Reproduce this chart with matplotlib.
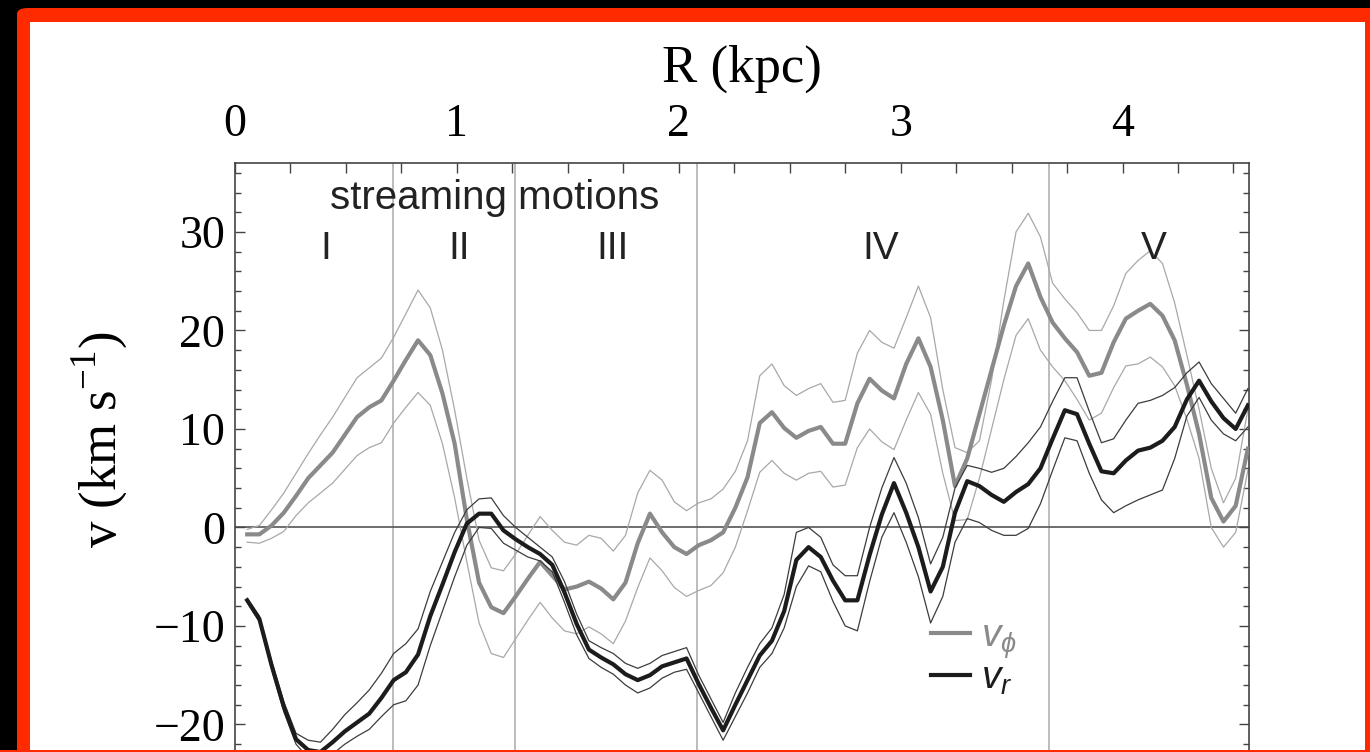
import numpy as np
import matplotlib
matplotlib.use("Agg")
import matplotlib.pyplot as plt
from matplotlib.patches import Rectangle, FancyBboxPatch


''' Data '''
# radial sampling of the velocity profiles (kpc)
R_STEP = 0.055
R = np.arange(1, 84) * R_STEP

v_phi = [-0.7, -0.7, 0.2, 1.5, 3.2, 5.0, 6.3, 7.6, 9.4, 11.2,
         12.2, 12.9, 14.9, 17.0, 19.0, 17.5, 13.6, 8.5, 0.8, -5.6,
         -8.1, -8.7, -7.0, -5.2, -3.5, -4.9, -6.3, -6.0, -5.5, -6.2,
         -7.3, -5.6, -1.6, 1.4, -0.5, -2.0, -2.7, -1.8, -1.3, -0.5,
         2.0, 5.1, 10.6, 11.7, 10.1, 9.1, 9.8, 10.2, 8.5, 8.5,
         12.6, 15.1, 13.9, 13.1, 16.6, 19.2, 16.3, 10.9, 4.2, 7.0,
         11.5, 16.0, 20.5, 24.5, 26.8, 23.4, 20.8, 19.2, 17.8, 15.4,
         15.7, 18.8, 21.2, 22.0, 22.7, 21.5, 19.0, 14.5, 9.5, 3.0,
         0.6, 2.2, 8.0]
v_phi_hi = [-0.2, 0.2, 1.8, 3.5, 5.5, 7.5, 9.4, 11.2, 13.2, 15.2,
            16.2, 17.2, 19.3, 21.7, 24.1, 22.3, 18.0, 11.9, 5.0, -1.3,
            -4.1, -4.4, -2.7, -0.8, 1.1, -0.3, -1.5, -1.8, -0.8, -1.1,
            -2.4, -0.8, 3.5, 5.8, 4.8, 2.6, 1.7, 2.5, 2.9, 3.9,
            5.7, 8.8, 15.4, 16.6, 14.4, 13.4, 14.1, 14.6, 12.7, 12.9,
            17.7, 20.0, 18.8, 18.2, 21.3, 24.5, 21.3, 14.0, 8.1, 7.6,
            8.8, 15.0, 23.0, 30.0, 31.9, 29.5, 24.8, 23.2, 21.8, 20.0,
            20.0, 22.5, 25.8, 27.1, 28.1, 26.8, 22.8, 17.5, 12.0, 6.0,
            2.5, 5.0, 12.0]
v_phi_lo = [-1.5, -1.6, -1.1, -0.4, 1.2, 2.5, 3.5, 4.5, 5.9, 7.3,
            8.1, 8.6, 10.6, 12.2, 13.7, 12.4, 8.5, 3.0, -3.5, -9.7,
            -12.8, -13.2, -11.3, -9.4, -7.6, -9.2, -10.5, -10.8, -10.1, -10.8,
            -11.8, -9.5, -6.1, -3.1, -4.4, -6.1, -7.0, -6.4, -5.9, -4.6,
            -2.0, 1.7, 5.6, 6.8, 5.5, 4.8, 5.5, 5.7, 4.1, 4.3,
            8.1, 10.0, 8.7, 7.9, 10.9, 13.7, 11.5, 5.5, 0.7, 0.8,
            5.0, 10.0, 15.0, 19.5, 21.2, 18.0, 16.3, 14.9, 13.0, 10.9,
            11.6, 14.2, 16.4, 16.6, 17.3, 16.3, 14.4, 11.0, 7.0, 0.0,
            -2.0, -0.5, 5.8]

v_r = [-7.4, -9.3, -14.0, -18.2, -21.5, -22.6, -22.8, -21.8, -20.7, -19.8,
       -18.9, -17.3, -15.5, -14.7, -12.9, -9.0, -5.8, -2.5, 0.4, 1.4,
       1.4, -0.3, -1.2, -2.0, -2.7, -3.8, -6.6, -9.8, -12.4, -13.2,
       -13.9, -14.9, -15.5, -15.0, -14.1, -13.7, -13.3, -15.9, -18.3, -20.6,
       -18.0, -15.5, -13.0, -11.5, -8.5, -3.3, -2.0, -3.0, -5.4, -7.4,
       -7.4, -2.8, 1.3, 4.5, 1.5, -2.0, -6.5, -4.0, 1.5, 4.7,
       4.2, 3.3, 2.6, 3.6, 4.4, 6.0, 9.0, 11.9, 11.5, 8.5,
       5.7, 5.5, 6.8, 7.8, 8.1, 8.8, 10.2, 13.0, 14.9, 12.8,
       11.1, 10.0, 12.4]
v_r_hi = [-7.2, -9.0, -13.6, -17.7, -20.9, -21.6, -21.8, -20.5, -19.0, -17.8,
          -16.5, -14.8, -12.8, -11.8, -10.3, -6.5, -3.5, -0.5, 1.8, 2.9,
          3.0, 1.2, 0.0, -1.0, -2.0, -3.0, -5.5, -8.8, -11.5, -12.2,
          -12.8, -13.8, -14.3, -13.8, -13.0, -12.6, -12.2, -15.0, -17.4, -19.8,
          -16.8, -14.2, -11.8, -10.2, -6.8, -0.5, 0.0, -1.0, -3.8, -4.9,
          -4.9, 0.0, 4.0, 7.1, 4.5, 1.0, -3.7, -1.0, 4.0, 6.3,
          6.0, 5.6, 6.0, 7.2, 8.6, 10.2, 12.8, 15.2, 15.2, 11.8,
          8.6, 9.0, 10.9, 12.6, 12.9, 13.4, 14.2, 15.7, 16.8, 14.6,
          13.1, 11.6, 14.1]
v_r_lo = [-7.6, -9.6, -14.4, -18.7, -22.0, -23.4, -23.8, -23.0, -22.0, -21.2,
          -20.5, -19.2, -18.0, -17.6, -16.0, -12.0, -8.5, -5.0, -1.8, 0.0,
          -0.1, -1.6, -2.3, -3.0, -3.4, -4.5, -7.6, -10.9, -13.3, -14.2,
          -14.9, -16.0, -16.8, -16.3, -15.3, -14.7, -14.4, -16.8, -19.2, -21.6,
          -19.2, -16.8, -14.2, -12.8, -10.2, -6.0, -3.9, -4.5, -7.5, -10.0,
          -10.5, -5.5, -1.0, 1.5, -1.5, -5.0, -9.7, -7.0, -1.5, 0.9,
          0.5, -0.3, -0.8, -0.8, -0.1, 2.4, 5.8, 9.1, 8.8, 5.5,
          2.8, 1.5, 2.2, 2.8, 3.3, 3.8, 7.0, 11.3, 13.2, 10.9,
          9.5, 8.8, 10.2]

# region boundaries and labels
region_edges = [0.71, 1.26, 2.08, 3.67]
region_names = ["I", "II", "III", "IV", "V"]
region_centres = [0.41, 1.01, 1.70, 2.91, 4.14]

x_ticks = [0, 1, 2, 3, 4]
y_ticks = [-20, -10, 0, 10, 20, 30]


''' Style '''
plt.rcParams["font.family"] = ["Liberation Serif", "DejaVu Serif"]
plt.rcParams["mathtext.fontset"] = "custom"
plt.rcParams["mathtext.rm"] = "Liberation Serif"
plt.rcParams["mathtext.it"] = "Liberation Sans:italic"
plt.rcParams["mathtext.sf"] = "Liberation Sans"

W, H = 1370, 752
fig = plt.figure(figsize=(W / 100, H / 100), dpi=100, facecolor="black")

# red frame with white card inside
fig.add_artist(FancyBboxPatch((17 / W, 1 - 760 / H), 1400 / W, 752 / H,
                              boxstyle="round,pad=0,rounding_size=0.008",
                              transform=fig.transFigure, facecolor="#ff2a00",
                              edgecolor="none", zorder=-3))
fig.add_artist(Rectangle((30 / W, 1 - 750 / H), 1335 / W, 728 / H,
                         transform=fig.transFigure, facecolor="white",
                         edgecolor="none", zorder=-2))

YMIN, YMAX = -25, 37
ax_top = 163
ax_bot = ax_top + (YMAX - YMIN) * 9.85
ax = fig.add_axes([235 / W, 1 - ax_bot / H, 1014 / W, (ax_bot - ax_top) / H])
ax.patch.set_visible(False)


''' Plot '''
GREY = "#8a8a8a"
GREY_THIN = "#a8a8a8"
DARK = "#1c1c1c"
DARK_THIN = "#3c3c3c"

for edge in region_edges:
    ax.axvline(edge, color="#a9a9a9", lw=1.1, zorder=1)
ax.axhline(0, color="#555555", lw=1.2, zorder=1)

ax.plot(R, v_phi_hi, color=GREY_THIN, lw=0.9, zorder=2)
ax.plot(R, v_phi_lo, color=GREY_THIN, lw=0.9, zorder=2)
ax.plot(R, v_phi, color=GREY, lw=3.0, zorder=3, label=r"$v_\phi$")

ax.plot(R, v_r_hi, color=DARK_THIN, lw=0.9, zorder=4)
ax.plot(R, v_r_lo, color=DARK_THIN, lw=0.9, zorder=4)
ax.plot(R, v_r, color=DARK, lw=3.0, zorder=5, label=r"$v_r$")

ax.text(1.17, 33.4, "streaming motions", family="Liberation Sans",
        fontsize=29, color="#222222", ha="center", va="center")
for name, xc in zip(region_names, region_centres):
    ax.text(xc, 28.3, name, family="Liberation Sans", fontsize=28,
            color="#222222", ha="center", va="center")

leg = ax.legend(loc="upper left", bbox_to_anchor=(0.667, 0.286),
                frameon=False, fontsize=28, handlelength=1.0,
                handletextpad=0.3, labelspacing=0.0, borderpad=0,
                labelcolor="linecolor")


''' Axes '''
ax.set_xlim(0, 4.57)
ax.set_ylim(YMIN, YMAX)
ax.set_xticks(x_ticks)
ax.set_xticks(np.arange(0, 4.6, 0.25), minor=True)
ax.set_yticks(y_ticks)
ax.set_yticks(np.arange(-24, 37, 2), minor=True)

ax.tick_params(which="both", direction="in", top=True, bottom=True,
               left=True, right=True, labeltop=True, labelbottom=False,
               color="#444444", width=1.0)
ax.tick_params(axis="x", which="major", length=7.5, pad=12, labelsize=33)
ax.tick_params(axis="x", which="minor", length=7)
ax.tick_params(axis="y", which="major", length=7.5, pad=7, labelsize=33)
ax.tick_params(axis="y", which="minor", length=4.5)
for s in ax.spines.values():
    s.set_color("#444444")
    s.set_linewidth(1.2)

ax.xaxis.set_label_position("top")
ax.set_xlabel("R (kpc)", fontsize=38, labelpad=16)
fig.text(100 / W, 1 - 440 / H, r"v (km s$^{-1}$)", fontsize=38,
         rotation=90, ha="center", va="center")

# thin red strip along the lower edge of the frame
fig.add_artist(Rectangle((0, 0), 1, 2 / H, transform=fig.transFigure,
                         facecolor="#ff2a00", edgecolor="none", zorder=10))

fig.savefig("out.png", dpi=100, facecolor=fig.get_facecolor())
